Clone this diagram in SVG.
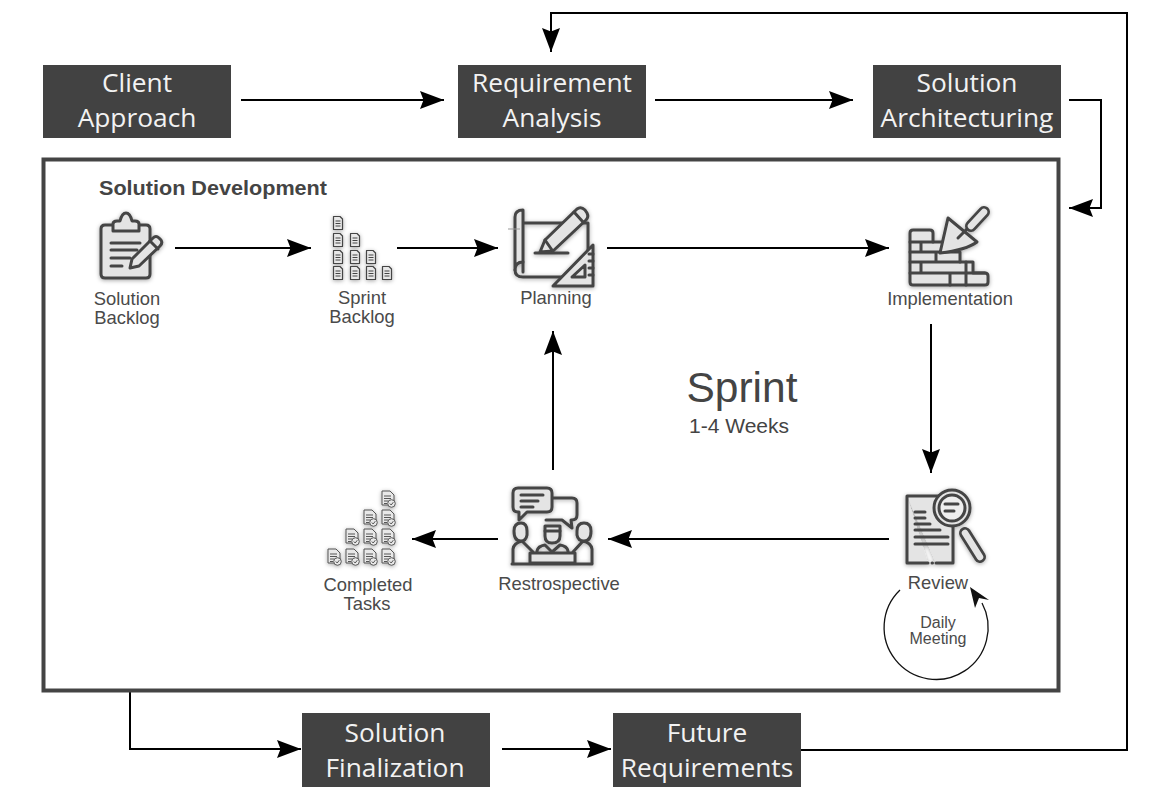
<svg xmlns="http://www.w3.org/2000/svg" width="1170" height="800" viewBox="0 0 1170 800">
<style>
.box{fill:#424242}
.bt{font-family:"Open Sans","Noto Sans",sans-serif;font-size:26.300px;fill:#f2f2f2;text-anchor:middle}
.lb{font-family:"Liberation Sans",Arial,sans-serif;font-size:18.400px;fill:#4a4a4a;text-anchor:middle}
.lb2{font-size:16px}
.c{fill:none;stroke:#000;stroke-width:2;marker-end:url(#ah)}
.ic{fill:none;stroke:#444;stroke-width:3;stroke-linejoin:round;stroke-linecap:round;filter:url(#sh)}
.ic .f{fill:#e4e4e4}
.ic .h1{stroke-width:12}
.ic .h2{stroke:#e4e4e4;stroke-width:6.500}
</style>
<defs>
<marker id="ah" markerUnits="userSpaceOnUse" markerWidth="26" markerHeight="22" refX="24" refY="11" orient="auto"><path d="M0 2 L24 11 L0 20 L3.500 11 Z" fill="#000"/></marker>
<filter id="sh" x="-30%" y="-30%" width="160%" height="160%"><feDropShadow dx="0" dy="1" stdDeviation="2.200" flood-color="#000" flood-opacity=".35"/></filter>
<g id="doc" fill="#e8e8e8" stroke="#444" stroke-width="1.200" stroke-linejoin="round"><path d="M-4.500 -6.500H2L4.500 -4V6.500H-4.500Z"/><path d="M-2.500 -2H2.500M-2.500 0.500H2.500M-2.500 3H2.500" fill="none"/></g>
<g id="done" fill="#e8e8e8" stroke="#555" stroke-width="1"><path d="M-6 -8H2L6 -4V6H-6Z"/><path d="M-4 -3H3M-4 -0.500H3M-4 2H0M-4 4.500H-1" fill="none"/><circle cx="3.500" cy="4.500" r="3.800"/><path d="M1.800 4.500L3.200 6L5.300 3.200" fill="none"/></g>
</defs>
<rect width="1170" height="800" fill="#fff"/>
<g id="connectors">
<path class="c" d="M241 100H444"/>
<path class="c" d="M655 100H853"/>
<path class="c" d="M1069 100H1101V208H1069"/>
<path class="c" d="M175 248H311"/>
<path class="c" d="M397 248H498"/>
<path class="c" d="M607 248H889"/>
<path class="c" d="M931 324V473"/>
<path class="c" d="M889 539H608"/>
<path class="c" d="M498 539H412"/>
<path class="c" d="M553 470V331"/>
<path class="c" d="M801 750H1127V13H551V52"/>
<path class="c" d="M130 691V749H301"/>
<path class="c" d="M502 749H611"/>
<path d="M900 590A52 52 0 1 0 982 603" fill="none" stroke="#111" stroke-width="1.300"/>
<path d="M970 587L989 600L979 598L975 608Z" fill="#111"/>
</g>
<rect id="frame" x="43.500" y="159.500" width="1015" height="531" fill="none" stroke="#444" stroke-width="4"/>
<text x="99" y="195" font-family="Liberation Sans,Arial,sans-serif" font-weight="700" font-size="20" textLength="228" lengthAdjust="spacingAndGlyphs" fill="#444">Solution Development</text>
<g id="client-approach"><rect class="box" x="43" y="65" width="188" height="73"/><text class="bt" x="137" y="92">Client</text><text class="bt" x="137" y="127">Approach</text></g>
<g id="requirement-analysis"><rect class="box" x="458" y="65" width="188" height="73"/><text class="bt" x="552" y="92">Requirement</text><text class="bt" x="552" y="127">Analysis</text></g>
<g id="solution-architecturing"><rect class="box" x="873" y="65" width="188" height="73"/><text class="bt" x="967" y="92">Solution</text><text class="bt" x="967" y="127">Architecturing</text></g>
<g id="solution-finalization"><rect class="box" x="302" y="713" width="188" height="74"/><text class="bt" x="395" y="742">Solution</text><text class="bt" x="395" y="777">Finalization</text></g>
<g id="future-requirements"><rect class="box" x="613" y="713" width="188" height="74"/><text class="bt" x="707" y="742">Future</text><text class="bt" x="707" y="777">Requirements</text></g>
<g id="solution-backlog">
<g class="ic"><path class="f" d="M105 225H146Q150 225 150 229V274Q150 278 146 278H105Q101 278 101 274V229Q101 225 105 225Z"/><path class="f" d="M113 231V224Q113 221 117 221H120Q122 213 126 213Q130 213 132 221H135Q139 221 139 224V231Z"/><path d="M111 243H140M111 250H137M111 258H130M111 266H122"/><path class="f" d="M130 268L132 259L153 238Q156 235 159 238L161 240Q163 243 160 246L139 266Z"/><path d="M150 241L158 249"/></g>
<text class="lb" x="127" y="305">Solution</text><text class="lb" x="127" y="324">Backlog</text></g>
<g id="sprint-backlog">
<g filter="url(#sh)"><use href="#doc" x="338" y="223"/><use href="#doc" x="338" y="240"/><use href="#doc" x="355" y="240"/><use href="#doc" x="338" y="257"/><use href="#doc" x="355" y="257"/><use href="#doc" x="371" y="257"/><use href="#doc" x="338" y="273"/><use href="#doc" x="355" y="273"/><use href="#doc" x="371" y="273"/><use href="#doc" x="387" y="273"/></g>
<text class="lb" x="362" y="304">Sprint</text><text class="lb" x="362" y="323">Backlog</text></g>
<g id="planning">
<g class="ic"><path d="M523 223H588V250"/><path class="f" d="M515 217Q515 210 523 210V262Q515 262 515 270Z"/><path d="M515 270Q515 277 523 277H566M523 262V272"/><path class="f" d="M540 252L545 240L577 209Q581 206 585 210L587 213Q589 217 586 220L553 251Z"/><path d="M574 212L583 222M545 240L552 250"/><path d="M535 253H568"/><path class="f" d="M593 245V286H553Z"/><path d="M585 265V277H572ZM593 254H589M593 261H589M593 268H589M593 275H589"/></g>
<path d="M508 229H520" stroke="#999" fill="none"/>
<text class="lb" x="556" y="304">Planning</text></g>
<g id="implementation">
<g class="ic"><path class="f" d="M910 233Q910 230 913 230H930Q933 230 933 233V242H943V252H960V262H973V273H985Q988 273 988 276V282Q988 285 985 285H913Q910 285 910 282Z"/><path d="M910 242H933M921 242V252M910 252H943M936 252V262M910 262H960M921 262V273M910 273H985M950 273V285M966 262V273M966 273V285"/><path class="f" d="M948 218L977 242Q966 250 940 253Z"/><path d="M958 238L968 228"/><path class="h1" d="M971 226L984 212"/><path class="h2" d="M971 226L984 212"/></g>
<text class="lb" x="950" y="305">Implementation</text></g>
<g id="review">
<g class="ic"><path class="f" d="M907 496H953V563H936M928 563H907V496"/><path d="M932 563H932.500"/><path d="M915 512H925M915 518H925M915 524H930M915 530H940M915 537H948M915 544H948"/><path class="h1" d="M965 533L980 557"/><path class="h2" d="M965 533L980 557"/><circle class="f" cx="952" cy="508" r="18"/><circle cx="952" cy="508" r="13" fill="#eee"/><path d="M945 504H958M945 511H954"/></g>
<text class="lb" x="938" y="589">Review</text></g>
<g id="daily-meeting"><text class="lb lb2" x="938" y="628">Daily</text><text class="lb lb2" x="938" y="644">Meeting</text></g>
<g id="retrospective">
<g class="ic"><path d="M552 498H572Q577 498 577 503V515Q577 520 572 520H571L572 528L562 520H546"/><path class="f" d="M518 488H547Q552 488 552 493V507Q552 512 547 512H527L519 520V512H518Q513 512 513 507V493Q513 488 518 488Z"/><path d="M521 495H543M521 501H538M521 507H533"/>
<path d="M513 563V549Q514 543 522 541L533 552"/><path class="f" d="M514 531Q514 523 521 523Q527 523 527 531V535Q526 541 521 541Q514 541 514 531Z"/>
<path d="M592 563V549Q591 543 583 541L573 552"/><path class="f" d="M591 531Q591 523 584 523Q577 523 577 531V535Q578 541 584 541Q591 541 591 531Z"/>
<path d="M537 553V551Q538 546 545 545L552 552L560 545Q567 546 568 551V553"/><path class="f" d="M545 526H560V536Q560 543 552 543Q545 543 545 536Z"/><path d="M545 531H560"/>
<path class="f" d="M530 553H575V563H530Z"/><path d="M512 564H592"/></g>
<text class="lb" x="559" y="590">Restrospective</text></g>
<g id="completed-tasks">
<g filter="url(#sh)"><use href="#done" x="388" y="499"/><use href="#done" x="370" y="518"/><use href="#done" x="388" y="518"/><use href="#done" x="352" y="537"/><use href="#done" x="370" y="537"/><use href="#done" x="388" y="537"/><use href="#done" x="334" y="557"/><use href="#done" x="352" y="557"/><use href="#done" x="370" y="557"/><use href="#done" x="388" y="557"/></g>
<text class="lb" x="368" y="591">Completed</text><text class="lb" x="367" y="610">Tasks</text></g>
<g id="sprint-label"><text x="742" y="402" font-family="Liberation Sans,Arial,sans-serif" font-size="42.500" fill="#444" text-anchor="middle">Sprint</text><text x="739" y="433" font-family="Liberation Sans,Arial,sans-serif" font-size="21" fill="#444" text-anchor="middle">1-4 Weeks</text></g>
</svg>
